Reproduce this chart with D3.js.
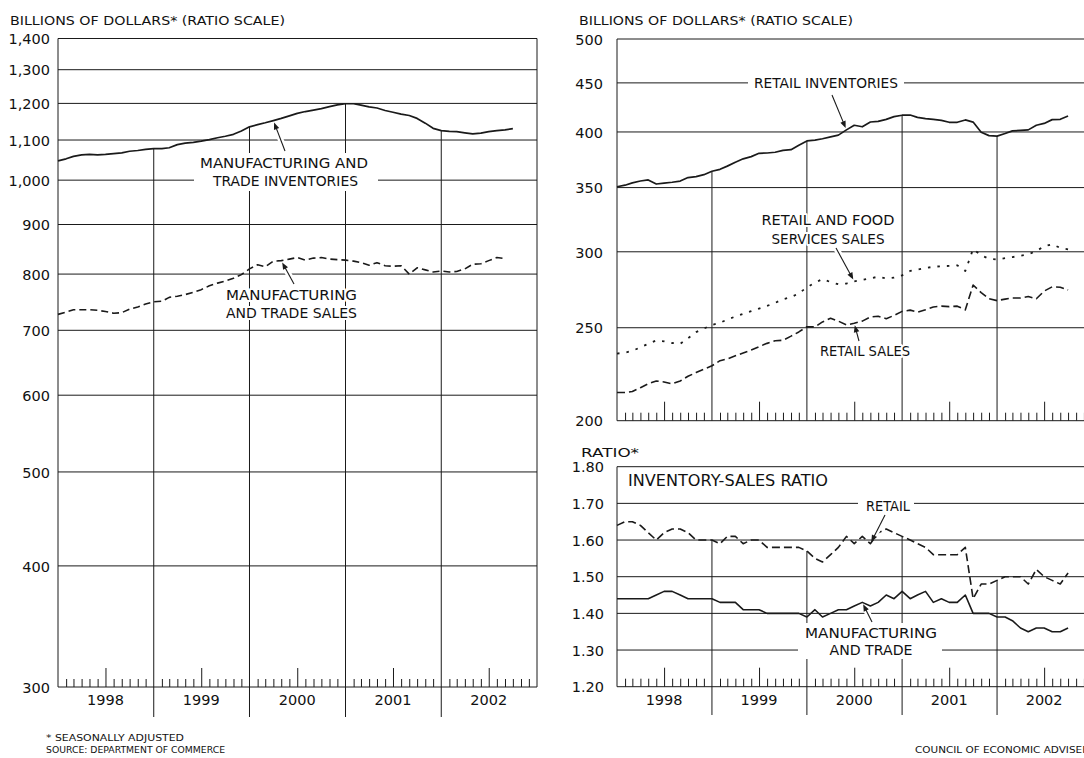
<!DOCTYPE html>
<html><head><meta charset="utf-8">
<script src="https://cdnjs.cloudflare.com/ajax/libs/d3/7.8.5/d3.min.js"></script>
<style>
body{margin:0;background:#fff}
svg{display:block}
text{font-family:"DejaVu Sans",sans-serif;fill:#111}
</style></head>
<body><svg id="c" width="1084" height="758"></svg>
<script>
// ---------------- DATA ----------------
const yearLabels = ["1998","1999","2000","2001","2002"];
const leftTicks = [1400,1300,1200,1100,1000,900,800,700,600,500,400,300];
const rightTopTicks = [500,450,400,350,300,250,200];
const ratioTicks = [1.80,1.70,1.60,1.50,1.40,1.30,1.20];

// Manufacturing and trade inventories (billions $), monthly from Jan 1998
const mtInventories = [1047,1052,1058,1062,1063,1062,1063,1065,1067,1071,1073,1076,
 1078,1078,1080,1088,1092,1094,1097,1101,1106,1110,1115,1124,
 1135,1141,1146,1152,1158,1165,1172,1177,1181,1185,1191,1196,
 1199,1199,1195,1190,1187,1180,1175,1170,1166,1158,1145,1131,
 1125,1123,1122,1119,1116,1118,1122,1125,1127,1130];
// Manufacturing and trade sales
const mtSales = [727,731,735,735,735,734,732,729,730,736,740,745,
 749,750,757,759,762,766,771,778,783,787,792,799,
 810,818,814,825,826,829,832,827,831,832,829,828,
 827,825,822,817,822,816,815,816,800,812,808,804,
 806,804,805,810,819,820,826,832,830];
// Retail inventories
const retailInventories = [350.7,352,354,355.6,356.5,353,353.8,354.5,355.5,358.5,359.3,361,
 364,365.7,368.5,372,375,377,380,380.3,381,382.7,383.3,387.5,
 391.5,392.3,393.5,395.3,397,402,406.5,405,409.7,410.3,412.3,415,
 416.4,416.6,414.2,413,412.2,411.3,409.4,409.4,411.7,409.6,399.7,396.5,
 396,398.5,401,401.5,402,406.5,408.3,412,412.3,415.6];
// Retail and food services sales
const retailFoodSales = [235,235.5,236.5,238.5,240.5,242.5,242,241,240.5,243.8,247.4,249.5,
 251.7,253,255,256.8,258.5,260.2,261.8,263.5,265.4,267.7,269,271.5,
 275.5,278.5,281,279,277.5,278,279.5,280.5,281.5,282.6,281.5,282,
 283.5,286.5,287.5,288.5,289.4,289.8,290,290.4,286.5,302,297.5,295,
 294.5,295.5,296.2,297.2,298.2,300.5,304,305.5,302.8,301.8];
// Retail sales
const retailSales = [214,214,214.5,216.5,218.5,220,219.5,218.5,220,222.5,224.5,226.3,
 228.2,231,232,233.7,235.3,237,238.9,240.8,242.3,242.6,245,247.5,
 250.6,250.5,253.5,255.8,254,251.7,252.7,254,256.5,257,255.5,257.5,
 260,260.8,259.5,261,262.8,263.3,263,263.3,261,277,272,268,
 266.8,267.8,268.5,268.5,269.5,268,273,275.8,275.5,273.7];
// Inventory-sales ratio: retail
const ratioRetail = [1.64,1.65,1.65,1.64,1.62,1.60,1.62,1.63,1.63,1.62,1.60,1.60,
 1.60,1.59,1.61,1.61,1.59,1.60,1.60,1.58,1.58,1.58,1.58,1.58,
 1.57,1.55,1.54,1.56,1.58,1.61,1.59,1.61,1.59,1.62,1.63,1.62,
 1.61,1.60,1.59,1.58,1.56,1.56,1.56,1.56,1.58,1.44,1.48,1.48,
 1.49,1.50,1.50,1.50,1.48,1.52,1.50,1.49,1.48,1.51];
// Inventory-sales ratio: manufacturing and trade
const ratioMT = [1.44,1.44,1.44,1.44,1.44,1.45,1.46,1.46,1.45,1.44,1.44,1.44,
 1.44,1.43,1.43,1.43,1.41,1.41,1.41,1.40,1.40,1.40,1.40,1.40,
 1.39,1.41,1.39,1.40,1.41,1.41,1.42,1.43,1.42,1.43,1.45,1.44,
 1.46,1.44,1.45,1.46,1.43,1.44,1.43,1.43,1.45,1.40,1.40,1.40,
 1.39,1.39,1.38,1.36,1.35,1.36,1.36,1.35,1.35,1.36];

// ---------------- SETUP ----------------
const svg = d3.select("#c");
const t0 = new Date(1998,0,1), t1 = new Date(2003,0,1);
const months = d3.timeMonth.range(t0, new Date(2002,10,1)); // Jan 1998 .. Oct 2002
const yearStarts = d3.timeYear.range(new Date(1999,0,1), new Date(2003,0,1)); // dividers
const INK = "#1a1a1a";

const xL = d3.scaleTime().domain([t0,t1]).range([58,537]);
const yL = d3.scaleLog().domain([300,1400]).range([687,38.5]);
const xR = d3.scaleTime().domain([t0,t1]).range([617,1092]);
const yRT = d3.scaleLog().domain([200,500]).range([420.7,39]);
const yRB = d3.scaleLinear().domain([1.2,1.8]).range([686.7,466.7]);

const gGrid = svg.append("g");
const gBg = svg.append("g");
const gSer = svg.append("g");
const gTxt = svg.append("g");

function hline(x0,x1,y){
  gGrid.append("line").attr("x1",x0).attr("x2",x1).attr("y1",y).attr("y2",y)
    .attr("stroke",INK).attr("stroke-width",1);
}
function vline(x,y0,y1,w){
  gGrid.append("line").attr("x1",x).attr("x2",x).attr("y1",y0).attr("y2",y1)
    .attr("stroke",INK).attr("stroke-width",w||1);
}

function panel(cfg){
  const {x,y,ticks,fmt,labelX,topSeries,divBottom,rightBorder,yearY} = cfg;
  const [xa,xb] = x.range();
  const xe = Math.min(xb,1084);
  const [lo,hi] = y.domain();
  // horizontal gridlines
  ticks.forEach(v=>hline(xa,xe,y(v)));
  // left / right borders
  vline(xa,y(hi),y(lo));
  if(rightBorder) vline(xb,y(hi),y(lo));
  // y labels via axis
  const ax = gTxt.append("g").attr("transform",`translate(${labelX},0)`)
    .call(d3.axisLeft(y).tickValues(ticks).tickFormat(fmt).tickSize(0).tickPadding(0));
  ax.select(".domain").remove();
  ax.selectAll("text").attr("font-family","DejaVu Sans").attr("font-size",14.5)
    .attr("fill",INK).attr("dy","0.36em");
  // bottom month ticks
  const bx = gGrid.append("g").attr("transform",`translate(0,${y(lo)})`)
    .call(d3.axisBottom(x).ticks(d3.timeMonth.every(1)).tickSize(-8).tickSizeOuter(0).tickFormat(""));
  bx.select(".domain").remove();
  bx.selectAll(".tick").filter(d=>d.getMonth()===0).remove();
  bx.selectAll(".tick line").attr("stroke",INK).attr("stroke-width",1)
    .attr("y2",d=>d.getMonth()===6?-19:-8);
  // year dividers from top series down
  yearStarts.forEach(d=>{
    const idx = months.findIndex(m=>+m===+d);
    vline(x(d), y(topSeries[idx]), divBottom);
  });
  // year labels
  if(yearY){
    yearLabels.forEach(yr=>{
      const mid = new Date(+yr,6,1);
      gTxt.append("text").attr("x",x(mid)).attr("y",yearY).attr("text-anchor","middle")
        .attr("font-size",14.5).text(yr);
    });
  }
}

panel({x:xL,y:yL,ticks:leftTicks,fmt:d3.format(","),labelX:50,topSeries:mtInventories,divBottom:717,rightBorder:true,yearY:705});
panel({x:xR,y:yRT,ticks:rightTopTicks,fmt:d3.format("d"),labelX:603,topSeries:retailInventories,divBottom:420.7,rightBorder:false,yearY:null});
panel({x:xR,y:yRB,ticks:ratioTicks,fmt:d3.format(".2f"),labelX:604,topSeries:ratioRetail,divBottom:715,rightBorder:false,yearY:705});

// series
function series(x,y,data,dash,w){
  const line = d3.line().x((d,i)=>x(months[i])).y(d=>y(d));
  gSer.append("path").datum(data).attr("d",line).attr("fill","none")
    .attr("stroke",INK).attr("stroke-width",w||1.6)
    .attr("stroke-dasharray",dash||null).attr("stroke-linejoin","round");
}
series(xL,yL,mtInventories,null,1.7);
series(xL,yL,mtSales,"7,4",1.6);
series(xR,yRT,retailInventories,null,1.7);
series(xR,yRT,retailFoodSales,"2.5,7",1.8);
series(xR,yRT,retailSales,"8,4",1.6);
series(xR,yRB,ratioRetail,"8,4",1.6);
series(xR,yRB,ratioMT,null,1.6);

// label backgrounds (break gridlines / dividers)
function bg(x0,y0,x1,y1){
  gBg.append("rect").attr("x",x0).attr("y",y0).attr("width",x1-x0).attr("height",y1-y0).attr("fill","#fff");
}
bg(194,153,378,191);   // manufacturing and trade inventories
bg(748,74,904,93);     // retail inventories
bg(858,497,914,516);   // retail (ratio)
bg(798,623,942,659);   // manufacturing and trade (ratio)

// text helper
function label(x,y,s,o){
  o=o||{};
  const t = gTxt.append("text").attr("x",x).attr("y",y).text(s)
    .attr("font-size",o.size||14.5).attr("text-anchor",o.anchor||"middle");
  if(o.len) t.attr("textLength",o.len).attr("lengthAdjust","spacingAndGlyphs");
  if(o.halo) t.attr("stroke","#fff").attr("stroke-width",4).attr("paint-order","stroke").attr("stroke-linejoin","round");
  return t;
}
// arrow with tip at a data point
function arrow(x,y,data,i,tailX,tailY){
  const tx = x(months[i]), ty = y(data[i]);
  const dx = tx-tailX, dy = ty-tailY, L = Math.hypot(dx,dy), ux=dx/L, uy=dy/L;
  const tipX = tx-ux*2, tipY = ty-uy*2;
  const bx = tipX-ux*7, by = tipY-uy*7;
  gTxt.append("line").attr("x1",tailX).attr("y1",tailY).attr("x2",bx).attr("y2",by)
    .attr("stroke","#fff").attr("stroke-width",6);
  gTxt.append("line").attr("x1",tailX).attr("y1",tailY).attr("x2",bx+ux*2).attr("y2",by+uy*2)
    .attr("stroke",INK).attr("stroke-width",1.1);
  gTxt.append("path").attr("d",`M${tipX},${tipY}L${bx-uy*2.8},${by+ux*2.8}L${bx+uy*2.8},${by-ux*2.8}Z`)
    .attr("fill",INK);
}

// titles
label(10,25,"BILLIONS OF DOLLARS* (RATIO SCALE)",{anchor:"start",size:12.5,len:275});
label(579,25,"BILLIONS OF DOLLARS* (RATIO SCALE)",{anchor:"start",size:12.5,len:274});
label(581,457,"RATIO*",{anchor:"start",size:12.5,len:58});

// left panel labels
label(284,168,"MANUFACTURING AND",{len:168});
label(285.5,186,"TRADE INVENTORIES",{len:145});
arrow(xL,yL,mtInventories,27,285,151);
label(291.5,300,"MANUFACTURING",{len:131,halo:true});
label(291.5,318,"AND TRADE SALES",{len:131,halo:true});
arrow(xL,yL,mtSales,28,294,284);

// right top labels
label(826,88,"RETAIL INVENTORIES",{len:144});
arrow(xR,yRT,retailInventories,29,832,95);
label(828,225,"RETAIL AND FOOD",{len:133,halo:true});
label(828,244,"SERVICES SALES",{len:113,halo:true});
arrow(xR,yRT,retailFoodSales,30,836,248);
label(865,356,"RETAIL SALES",{len:90,halo:true});
arrow(xR,yRT,retailSales,30,859,341);

// ratio labels
label(628,486,"INVENTORY-SALES RATIO",{anchor:"start",size:15,len:200});
label(888,511,"RETAIL",{len:44});
arrow(xR,yRB,ratioRetail,32,885,515);
label(871,638,"MANUFACTURING",{len:132});
label(871,655,"AND TRADE",{len:83});
arrow(xR,yRB,ratioMT,31,872,622);

// footer
label(46,741,"* SEASONALLY ADJUSTED",{anchor:"start",size:9.5,len:138});
label(46,753,"SOURCE: DEPARTMENT OF COMMERCE",{anchor:"start",size:9.5,len:179});
label(915,753,"COUNCIL OF ECONOMIC ADVISERS",{anchor:"start",size:9.5,len:181});
</script>
</body></html>
